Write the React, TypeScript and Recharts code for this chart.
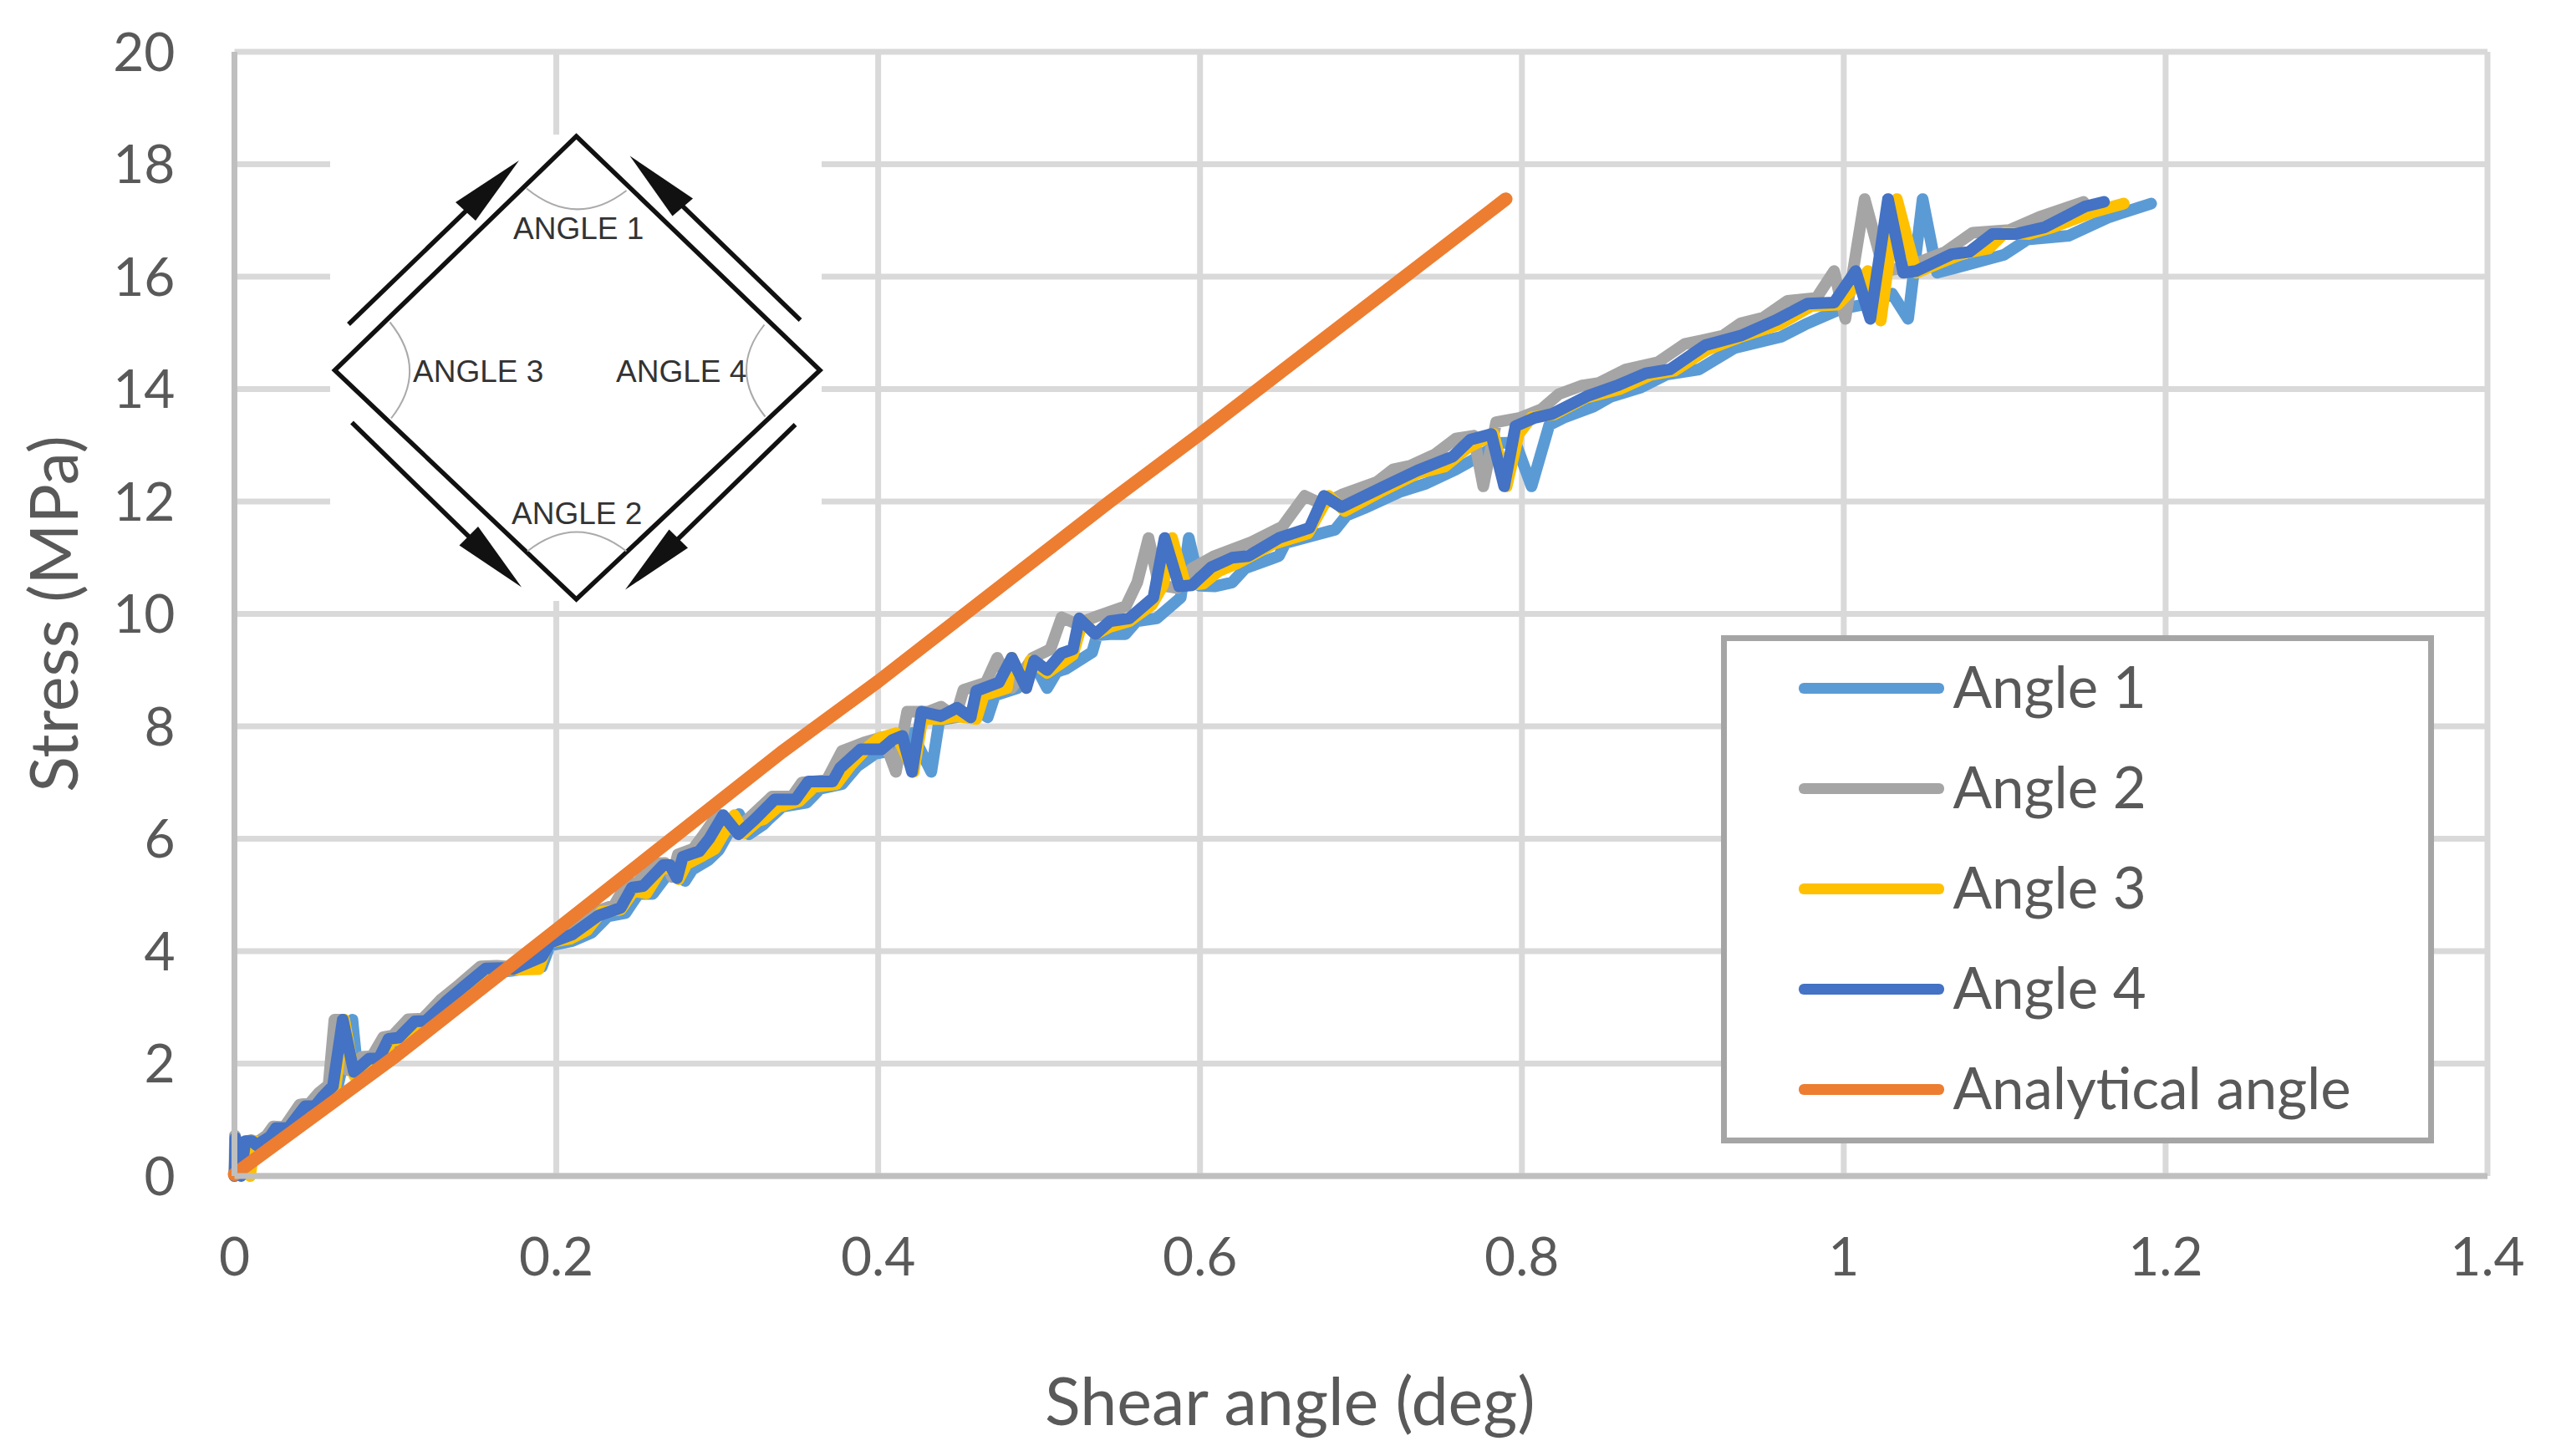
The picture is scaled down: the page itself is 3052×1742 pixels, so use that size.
import { LineChart, Line, XAxis, YAxis, CartesianGrid, Legend } from 'recharts';

type Pt = [number, number];

const X_TICKS = [0, 0.2, 0.4, 0.6, 0.8, 1, 1.2, 1.4];
const Y_TICKS = [0, 2, 4, 6, 8, 10, 12, 14, 16, 18, 20];

// [shear angle, stress]
const ANGLE_1: Pt[] = [
  [0, 0], [0.0012, 0.55], [0.0045, 0.02], [0.008, 0.6], [0.0125, 0.58], [0.015, 0.52], [0.0235, 0.66], [0.0285, 0.8],
  [0.0365, 0.81], [0.047, 1.17], [0.0535, 1.18], [0.058, 1.37], [0.0635, 1.5], [0.0733, 2.78], [0.0768, 1.75],
  [0.086, 2.03], [0.093, 2.04], [0.0985, 2.37], [0.105, 2.4], [0.116, 2.68], [0.123, 2.7], [0.1345, 3.0], [0.146, 3.29],
  [0.16, 3.62], [0.172, 3.65], [0.183, 3.7], [0.191, 3.72], [0.196, 4.1], [0.21, 4.18], [0.222, 4.33], [0.232, 4.62],
  [0.243, 4.68], [0.251, 5.02], [0.26, 5.02], [0.27, 5.4], [0.2755, 5.43], [0.28, 5.25], [0.2845, 5.45], [0.2945, 5.62],
  [0.301, 5.8], [0.3135, 6.44], [0.3197, 6.08], [0.3285, 6.25], [0.332, 6.35], [0.3405, 6.57], [0.3555, 6.64],
  [0.364, 6.89], [0.3775, 6.97], [0.387, 7.29], [0.398, 7.51], [0.415, 7.6], [0.421, 7.88], [0.433, 7.19], [0.438, 8.11],
  [0.452, 8.18], [0.461, 8.31], [0.468, 8.16], [0.4725, 8.55], [0.4865, 8.68], [0.496, 9.17], [0.505, 8.68], [0.511, 8.97],
  [0.5166, 9.02], [0.533, 9.32], [0.536, 9.62], [0.544, 9.64], [0.5536, 9.64], [0.5606, 9.87], [0.573, 9.92], [0.588, 10.29],
  [0.593, 11.35], [0.6, 10.5], [0.609, 10.49], [0.62, 10.56], [0.628, 10.81], [0.649, 11.03], [0.653, 11.26], [0.684, 11.5],
  [0.691, 11.75], [0.702, 11.88], [0.724, 12.17], [0.7405, 12.32], [0.759, 12.57], [0.7716, 12.77], [0.786, 13.04],
  [0.796, 13.05], [0.806, 12.27], [0.817, 13.36], [0.826, 13.49], [0.8445, 13.69], [0.855, 13.86], [0.874, 14.03],
  [0.89, 14.26], [0.91, 14.35], [0.932, 14.73], [0.961, 14.93], [0.976, 15.15], [0.9976, 15.42], [1.019, 15.54],
  [1.03, 15.7], [1.04, 15.25], [1.049, 17.38], [1.058, 16.07], [1.07, 16.16], [1.0997, 16.39], [1.114, 16.66], [1.14, 16.73],
  [1.165, 17.06], [1.191, 17.3],
];

const ANGLE_2: Pt[] = [
  [0, 0], [0.0003, 0.72], [0.003, 0.02], [0.0055, 0.6], [0.0105, 0.64], [0.013, 0.58], [0.02, 0.72], [0.024, 0.88],
  [0.031, 0.87], [0.0405, 1.27], [0.047, 1.3], [0.0525, 1.48], [0.0585, 1.62], [0.0621, 2.78], [0.0665, 2.78], [0.0705, 1.88],
  [0.079, 2.12], [0.0855, 2.13], [0.0925, 2.47], [0.0985, 2.5], [0.108, 2.79], [0.117, 2.8], [0.128, 3.13], [0.14, 3.41],
  [0.153, 3.73], [0.163, 3.74], [0.172, 3.72], [0.187, 3.95], [0.193, 4.2], [0.207, 4.36], [0.222, 4.68], [0.236, 4.82],
  [0.243, 5.17], [0.25, 5.22], [0.2625, 5.56], [0.2675, 5.57], [0.272, 5.32], [0.2755, 5.72], [0.285, 5.82], [0.291, 6.05],
  [0.3005, 6.44], [0.31, 6.15], [0.3192, 6.35], [0.334, 6.75], [0.3465, 6.75], [0.3526, 7.0], [0.368, 7.04], [0.3775, 7.56],
  [0.391, 7.71], [0.403, 7.81], [0.411, 7.19], [0.418, 8.26], [0.431, 8.26], [0.439, 8.35], [0.448, 8.16], [0.453, 8.65],
  [0.467, 8.78], [0.474, 9.22], [0.483, 8.68], [0.496, 9.22], [0.507, 9.37], [0.514, 9.94], [0.5235, 9.82], [0.537, 9.97],
  [0.554, 10.14], [0.561, 10.56], [0.568, 11.35], [0.5745, 10.51], [0.586, 10.46], [0.595, 10.81], [0.609, 11.03],
  [0.632, 11.28], [0.651, 11.55], [0.665, 12.1], [0.676, 11.95], [0.688, 12.12], [0.71, 12.35], [0.72, 12.57], [0.731, 12.64],
  [0.746, 12.84], [0.759, 13.12], [0.77, 13.17], [0.776, 12.27], [0.784, 13.41], [0.799, 13.49], [0.812, 13.64], [0.823, 13.91],
  [0.837, 14.06], [0.848, 14.11], [0.8645, 14.35], [0.8846, 14.48], [0.901, 14.8], [0.925, 14.95], [0.936, 15.17], [0.95, 15.27],
  [0.965, 15.57], [0.983, 15.62], [0.994, 16.1], [1.001, 15.25], [1.013, 17.38], [1.025, 16.1], [1.038, 16.16], [1.063, 16.44],
  [1.08, 16.78], [1.103, 16.83], [1.1215, 17.06], [1.149, 17.33],
];

const ANGLE_3: Pt[] = [
  [0, 0], [0.001, 0.6], [0.0097, 0], [0.0125, 0.62], [0.0145, 0.55], [0.023, 0.68], [0.0275, 0.83], [0.0355, 0.83],
  [0.0455, 1.2], [0.051, 1.22], [0.0565, 1.4], [0.0625, 1.52], [0.0682, 2.78], [0.0745, 1.78], [0.085, 2.05], [0.092, 2.07],
  [0.0975, 2.4], [0.104, 2.43], [0.114, 2.72], [0.121, 2.73], [0.133, 3.05], [0.1445, 3.33], [0.158, 3.66], [0.17, 3.67],
  [0.189, 3.68], [0.1947, 4.15], [0.2086, 4.22], [0.219, 4.37], [0.228, 4.7], [0.24, 4.74], [0.248, 5.07], [0.256, 5.03],
  [0.2654, 5.46], [0.272, 5.5], [0.276, 5.28], [0.281, 5.55], [0.291, 5.7], [0.2985, 5.82], [0.3106, 6.42], [0.3166, 6.1],
  [0.3255, 6.32], [0.329, 6.35], [0.338, 6.57], [0.351, 6.67], [0.36, 6.92], [0.374, 6.97], [0.383, 7.31], [0.394, 7.64],
  [0.4, 7.78], [0.411, 7.88], [0.422, 7.19], [0.4275, 8.13], [0.44, 8.13], [0.448, 8.18], [0.461, 8.13], [0.4656, 8.55],
  [0.48, 8.68], [0.483, 9.22], [0.492, 8.68], [0.4945, 9.17], [0.505, 8.95], [0.521, 9.27], [0.527, 9.87], [0.535, 9.64],
  [0.544, 9.77], [0.556, 9.87], [0.57, 10.16], [0.577, 10.51], [0.5826, 11.35], [0.591, 10.51], [0.602, 10.54], [0.6116, 10.76],
  [0.623, 10.9], [0.646, 11.25], [0.667, 11.43], [0.68, 12.1], [0.69, 11.83], [0.712, 12.17], [0.735, 12.5], [0.752, 12.62],
  [0.766, 12.95], [0.7825, 13.2], [0.7905, 12.27], [0.798, 13.2], [0.806, 13.5], [0.82, 13.55], [0.84, 13.85], [0.861, 14.0],
  [0.88, 14.25], [0.895, 14.33], [0.915, 14.7], [0.935, 14.92], [0.96, 15.15], [0.98, 15.48], [0.996, 15.5], [1.008, 15.85],
  [1.015, 16.1], [1.023, 15.22], [1.033, 17.38], [1.045, 16.07], [1.06, 16.25], [1.075, 16.42], [1.09, 16.5], [1.1, 16.78],
  [1.115, 16.76], [1.13, 16.88], [1.155, 17.15], [1.174, 17.3],
];

const ANGLE_4: Pt[] = [
  [0, 0], [0.0006, 0.68], [0.004, 0], [0.0067, 0.62], [0.011, 0.62], [0.0137, 0.55], [0.0222, 0.7], [0.0257, 0.85],
  [0.0335, 0.85], [0.0439, 1.24], [0.05, 1.24], [0.0551, 1.42], [0.0612, 1.6], [0.0673, 2.78], [0.0742, 1.85], [0.0837, 2.09],
  [0.0898, 2.09], [0.0958, 2.44], [0.102, 2.46], [0.112, 2.75], [0.119, 2.76], [0.131, 3.09], [0.1425, 3.37], [0.156, 3.69],
  [0.166, 3.7], [0.173, 3.68], [0.191, 3.9], [0.196, 4.15], [0.21, 4.3], [0.226, 4.63], [0.24, 4.77], [0.247, 5.13],
  [0.254, 5.16], [0.2664, 5.53], [0.2707, 5.53], [0.275, 5.3], [0.2786, 5.68], [0.2889, 5.78], [0.295, 6.0], [0.3037, 6.42],
  [0.3132, 6.08], [0.3235, 6.35], [0.3357, 6.7], [0.3487, 6.7], [0.3567, 7.02], [0.3717, 7.02], [0.3764, 7.26], [0.389, 7.59],
  [0.402, 7.59], [0.409, 7.76], [0.415, 7.83], [0.421, 7.19], [0.427, 8.26], [0.439, 8.18], [0.449, 8.33], [0.4575, 8.16],
  [0.461, 8.63], [0.475, 8.78], [0.483, 9.22], [0.492, 8.68], [0.497, 9.17], [0.505, 9.0], [0.514, 9.3], [0.521, 9.37],
  [0.525, 9.92], [0.535, 9.64], [0.544, 9.87], [0.556, 9.92], [0.571, 10.29], [0.578, 11.35], [0.587, 10.49], [0.595, 10.51],
  [0.607, 10.83], [0.62, 11.0], [0.63, 11.03], [0.649, 11.35], [0.668, 11.53], [0.677, 12.1], [0.688, 11.9], [0.713, 12.25],
  [0.735, 12.55], [0.757, 12.8], [0.768, 13.1], [0.781, 13.2], [0.789, 12.27], [0.796, 13.34], [0.808, 13.49], [0.819, 13.56],
  [0.841, 13.88], [0.859, 14.06], [0.877, 14.28], [0.892, 14.35], [0.914, 14.78], [0.936, 14.95], [0.9575, 15.22], [0.9775, 15.52],
  [0.994, 15.54], [1.0074, 16.1], [1.0165, 15.25], [1.0275, 17.38], [1.037, 16.07], [1.045, 16.1], [1.067, 16.4], [1.078, 16.44],
  [1.0925, 16.76], [1.107, 16.76], [1.125, 16.88], [1.15, 17.25], [1.1617, 17.33],
];

const ANALYTICAL: Pt[] = [[0, 0.03], [0.1, 2.13], [0.2, 4.38], [0.34, 7.54], [0.4, 8.8], [0.544, 12.0], [0.6, 13.2], [0.79, 17.38]];

const SERIES = [
  { name: 'Angle 1', color: '#5b9bd5', points: ANGLE_1 },
  { name: 'Angle 2', color: '#a5a5a5', points: ANGLE_2 },
  { name: 'Angle 3', color: '#ffc000', points: ANGLE_3 },
  { name: 'Angle 4', color: '#4472c4', points: ANGLE_4 },
  { name: 'Analytical angle', color: '#ed7d31', points: ANALYTICAL },
];

const FONT = 'Lato, Carlito, sans-serif';
const TEXT_COLOR = '#595959';

function LegendBox({ payload }: any) {
  return (
    <div
      style={{
        boxSizing: 'border-box',
        width: 853,
        height: 608,
        border: '7px solid #a5a5a5',
        background: '#fff',
        paddingLeft: 86,
      }}
    >
      <div style={{ marginTop: -3 }}>
        {(payload || []).map((item: any) => (
          <div key={item.value} style={{ height: 120, display: 'flex', alignItems: 'center' }}>
            <div style={{ width: 174, height: 13, borderRadius: 6, background: item.color }} />
            <span style={{ marginLeft: 11, marginTop: -6, fontFamily: FONT, fontSize: 69, color: TEXT_COLOR, lineHeight: '120px' }}>
              {item.value}
            </span>
          </div>
        ))}
      </div>
    </div>
  );
}

// The loading sketch pasted on the chart
function ShearInset() {
  const label = { fontFamily: '"Liberation Sans", Arial, sans-serif', fontSize: 37, fill: '#333' };
  return (
    <svg width={3052} height={1742} style={{ position: 'absolute', left: 0, top: 0 }}>
      <rect x={395} y={161} width={588} height={558} fill="#fff" />
      <polygon points="689.5,163 981,443 689.5,717 400.5,443" fill="none" stroke="#111" strokeWidth={5.5} />
      <g stroke="#111" strokeWidth={5.5} fill="none">
        <line x1={417} y1={388} x2={560} y2={250} />
        <line x1={957.5} y1={383} x2={815} y2={245} />
        <line x1={421} y1={505.5} x2={562} y2={643} />
        <line x1={951.5} y1={508} x2={810} y2={646} />
      </g>
      <g fill="#111">
        <polygon points="621,192 545,242 569,264" />
        <polygon points="753.5,186.5 829,237.5 804.5,258.5" />
        <polygon points="624,702.5 572,630 549.5,652.5" />
        <polygon points="748,705.5 823,655.5 800.5,633.5" />
      </g>
      <g stroke="#aaa" strokeWidth={2} fill="none">
        <path d="M630,225.5 Q689.5,274 749.5,228" />
        <path d="M631,659.5 Q689.5,613.5 749.5,659.5" />
        <path d="M466.5,385.5 Q513,443 468,500.5" />
        <path d="M914.5,388.5 Q871,443 915.5,498.5" />
      </g>
      <text x={614} y={286} {...label}>ANGLE 1</text>
      <text x={612} y={627} {...label}>ANGLE 2</text>
      <text x={494} y={456.5} {...label}>ANGLE 3</text>
      <text x={737} y={456.5} {...label}>ANGLE 4</text>
    </svg>
  );
}

export default function App() {
  const tick = { fill: TEXT_COLOR, fontSize: 64, fontFamily: FONT };
  const title = { ...tick, fontSize: 79 };
  return (
    <div style={{ position: 'absolute', left: 0, top: 0, width: 3052, height: 1742, background: '#fff' }}>
      <LineChart width={3052} height={1742} margin={{ top: 62, right: 76, bottom: 0, left: 0 }}>
        <CartesianGrid stroke="#d9d9d9" strokeWidth={7} />
        <XAxis
          type="number"
          dataKey="x"
          domain={[0, 1.4]}
          ticks={X_TICKS}
          interval={0}
          height={335}
          tick={tick}
          tickLine={false}
          tickMargin={68}
          axisLine={{ stroke: '#bfbfbf', strokeWidth: 7 }}
          label={{ value: 'Shear angle (deg)', position: 'insideBottom', offset: 37, dx: -85, style: title }}
        />
        <YAxis
          type="number"
          dataKey="y"
          domain={[0, 20]}
          ticks={Y_TICKS}
          interval={0}
          width={280.5}
          tick={tick}
          tickLine={false}
          tickMargin={65}
          axisLine={{ stroke: '#bfbfbf', strokeWidth: 7 }}
          label={{ value: 'Stress (MPa)', angle: -90, position: 'insideLeft', offset: 65, style: { ...title, textAnchor: 'middle' } }}
        />
        {SERIES.map((s) => (
          <Line
            key={s.name}
            name={s.name}
            data={s.points.map(([x, y]) => ({ x, y }))}
            dataKey="y"
            type="linear"
            stroke={s.color}
            strokeWidth={s.points === ANALYTICAL ? 16 : 14}
            strokeLinejoin="round"
            strokeLinecap="round"
            dot={false}
            activeDot={false}
            isAnimationActive={false}
          />
        ))}
        <Legend
          layout="vertical"
          align="center"
          verticalAlign="middle"
          itemSorter={null}
          content={<LegendBox />}
          wrapperStyle={{ position: 'absolute', left: 2058.5, top: 759.5, width: 853, height: 608, margin: 0 }}
        />
      </LineChart>
      <ShearInset />
    </div>
  );
}
